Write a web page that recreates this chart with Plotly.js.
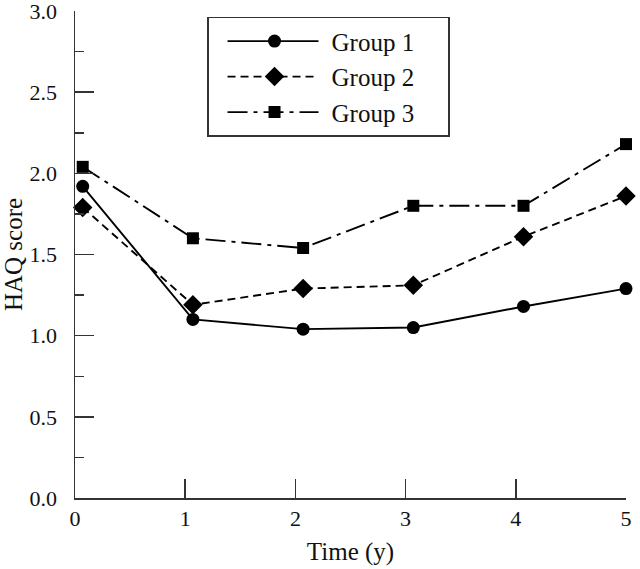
<!DOCTYPE html>
<html>
<head>
<meta charset="utf-8">
<script src="https://cdn.plot.ly/plotly-3.0.1.min.js"></script>
<style>html,body{margin:0;padding:0;background:#fff;}#chart{width:640px;height:569px;}</style>
</head>
<body>
<div id="chart"></div>
<script>
const timeYears = [0.07, 1.07, 2.07, 3.07, 4.07, 5.0];
const group1 = [1.92, 1.10, 1.04, 1.05, 1.18, 1.29];
const group2 = [1.79, 1.19, 1.29, 1.31, 1.61, 1.86];
const group3 = [2.04, 1.60, 1.54, 1.80, 1.80, 2.18];
const seriesNames = ["Group 1", "Group 2", "Group 3"];
const xTicks = [0, 1, 2, 3, 4, 5];
const yTicks = [0, 0.5, 1, 1.5, 2, 2.5, 3];

const font = "Liberation Serif";
function trace(y, name, dash, symbol, size) {
  return {
    x: timeYears, y: y, name: name, type: "scatter", mode: "lines+markers",
    cliponaxis: false,
    line: {color: "#000", width: 1.9, dash: dash},
    marker: {color: "#000", symbol: symbol, size: size}
  };
}
const data = [
  trace(group1, seriesNames[0], "solid", "circle", 13),
  trace(group2, seriesNames[1], "8px,5px", "diamond", 15),
  trace(group3, seriesNames[2], "20px,6px,4px,6px", "square", 12)
];
const layout = {
  width: 640, height: 569,
  margin: {l: 75, r: 14, t: 11, b: 71},
  paper_bgcolor: "#fff", plot_bgcolor: "#fff",
  font: {family: font, size: 22, color: "#111"},
  showlegend: true,
  legend: {
    x: 0.2396, y: 0.988, xanchor: "left", yanchor: "top",
    bordercolor: "#333", borderwidth: 1.5, bgcolor: "#fff",
    font: {family: font, size: 25, color: "#111"},
    itemwidth: 113,
    tracegroupgap: 0
  },
  xaxis: {
    range: [0, 5], tickvals: xTicks, ticktext: xTicks.map(String),
    ticks: "inside", ticklen: 19, tickwidth: 1.5, tickcolor: "#333",
    showline: true, linecolor: "#333", linewidth: 1.5,
    showgrid: false, zeroline: false,
    ticklabeloverflow: "allow",
    tickfont: {family: font, size: 22, color: "#111"},
    title: {text: "Time (y)", font: {family: font, size: 25, color: "#111"}, standoff: 12}
  },
  yaxis: {
    range: [0, 3], tickvals: yTicks, ticktext: yTicks.map(v => v.toFixed(1)),
    ticks: "inside", ticklen: 19, tickwidth: 1.5, tickcolor: "#333",
    minor: {dtick: 0.25, ticks: "inside", ticklen: 9, tickwidth: 1.5, tickcolor: "#333"},
    showline: true, linecolor: "#333", linewidth: 1.5,
    showgrid: false, zeroline: false,
    ticklabeloverflow: "allow",
    ticklabelstandoff: 12,
    tickfont: {family: font, size: 22, color: "#111"},
    title: {text: "HAQ score", font: {family: font, size: 25, color: "#111"}, standoff: 6}
  }
};
const gd = document.getElementById("chart");
Plotly.newPlot(gd, data, layout, {displayModeBar: false, staticPlot: true}).then(function () {
  // lengthen legend samples to match the reference's long key lines
  gd.querySelectorAll(".legend .legendlines path").forEach(function (p) {
    p.setAttribute("d", "M19,0h91");
  });
  gd.querySelectorAll(".legend .legendsymbols path").forEach(function (p) {
    p.setAttribute("transform", "translate(66,0)");
  });
  const bg = gd.querySelector(".legend rect.bg");
  if (bg) bg.setAttribute("width", "241");
});
</script>
</body>
</html>
